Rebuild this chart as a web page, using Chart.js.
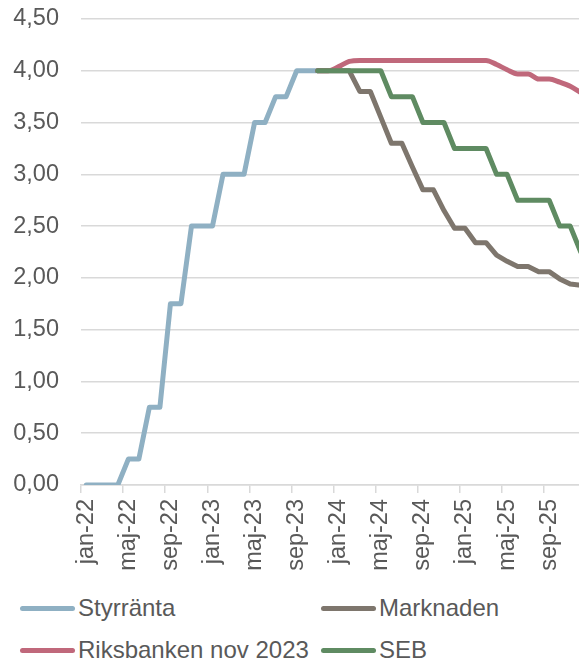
<!DOCTYPE html>
<html>
<head>
<meta charset="utf-8">
<script src="https://cdn.jsdelivr.net/npm/chart.js@4"></script>
<style>
  html, body { margin: 0; padding: 0; background: #fff; overflow: hidden; width: 579px; height: 660px; }
  #wrap { position: absolute; left: 0; top: 0; width: 586px; height: 590px; }
  .legend { position: absolute; left: 0; top: 0; font-family: "Liberation Sans", Arial, sans-serif; font-size: 24px; color: #595959; }
  .item { position: absolute; white-space: nowrap; display: flex; align-items: center; height: 28px; }
  .item span.sw { display: inline-block; width: 55px; height: 5px; border-radius: 3px; margin-right: 3px; }
</style>
</head>
<body>
<div id="wrap"><canvas id="rateChart" width="586" height="590"></canvas></div>
<div class="legend" id="legend"></div>
<script>
// månader jan-22 .. dec-25
const monthNames = ['jan', 'feb', 'mar', 'apr', 'maj', 'jun', 'jul', 'aug', 'sep', 'okt', 'nov', 'dec'];
const years = ['22', '23', '24', '25'];
const months = [];
years.forEach(y => monthNames.forEach(m => months.push(m + '-' + y)));

// Styrränta jan-22 .. nov-23
const styrranta = [0, 0, 0, 0, 0.25, 0.25, 0.75, 0.75, 1.75, 1.75, 2.5, 2.5,
                   2.5, 3.0, 3.0, 3.0, 3.5, 3.5, 3.75, 3.75, 4.0, 4.0, 4.0];
// prognoser från nov-23
const marknaden = [4.0, 4.0, 4.0, 4.0, 3.8, 3.8, 3.55, 3.3, 3.3, 3.07, 2.85, 2.85, 2.65, 2.48,
                   2.48, 2.34, 2.34, 2.22, 2.16, 2.11, 2.11, 2.06, 2.06, 1.99, 1.94, 1.93];
const riksbanken = [4.0, 4.0, 4.04, 4.09, 4.1, 4.1, 4.1, 4.1, 4.1, 4.1, 4.1, 4.1, 4.1, 4.1,
                    4.1, 4.1, 4.1, 4.06, 4.01, 3.97, 3.97, 3.92, 3.92, 3.89, 3.85, 3.79];
const seb = [4.0, 4.0, 4.0, 4.0, 4.0, 4.0, 4.0, 3.75, 3.75, 3.75, 3.5, 3.5, 3.5, 3.25,
             3.25, 3.25, 3.25, 3.0, 3.0, 2.75, 2.75, 2.75, 2.75, 2.5, 2.5, 2.25];
const yTicks = [0, 0.5, 1, 1.5, 2, 2.5, 3, 3.5, 4, 4.5];

const forecastStart = 22; // nov-23

function pad(values, start) {
    const out = new Array(months.length).fill(null);
    values.forEach((v, i) => { out[start + i] = v; });
    return out;
}

const series = [
    { label: 'Styrränta', data: pad(styrranta, 0), color: '#8fb0c3', order: 3 },
    { label: 'Marknaden', data: pad(marknaden, forecastStart), color: '#7e766d', order: 2 },
    { label: 'Riksbanken nov 2023', data: pad(riksbanken, forecastStart), color: '#c0687b', order: 1, smooth: true },
    { label: 'SEB', data: pad(seb, forecastStart), color: '#5f8b62', order: 0 }
];

const ctx = document.getElementById('rateChart').getContext('2d');
const rateChart = new Chart(ctx, {
    type: 'line',
    data: {
        labels: months,
        datasets: series.map(s => ({
            label: s.label,
            data: s.data,
            borderColor: s.color,
            backgroundColor: s.color,
            borderWidth: 5,
            pointRadius: 0,
            pointHoverRadius: 0,
            borderCapStyle: 'round',
            borderJoinStyle: 'round',
            tension: s.smooth ? 0.4 : 0,
            cubicInterpolationMode: s.smooth ? 'monotone' : 'default',
            spanGaps: false,
            order: s.order
        }))
    },
    options: {
        responsive: false,
        animation: false,
        layout: { padding: { top: 19, left: 0, right: 0, bottom: 0 } },
        plugins: {
            legend: { display: false },
            tooltip: { enabled: false }
        },
        scales: {
            x: {
                offset: true,
                grid: {
                    offset: true,
                    drawOnChartArea: false,
                    drawTicks: true,
                    tickLength: 8,
                    color: function (c) { return c.index % 4 === 0 ? '#d9d9d9' : 'rgba(0,0,0,0)'; },
                    lineWidth: 1.5
                },
                border: { display: true, color: '#d9d9d9', width: 1.5 },
                ticks: {
                    autoSkip: false,
                    minRotation: 90,
                    maxRotation: 90,
                    padding: 6,
                    color: '#595959',
                    font: { family: '"Liberation Sans", Arial, sans-serif', size: 23.5 },
                    callback: function (val, i) {
                        return i % 4 === 0 ? months[i] : '';
                    }
                },
                afterFit: function (scale) {
                    scale.height = 105;
                    scale.paddingLeft = 0;
                    scale.paddingRight = 0;
                }
            },
            y: {
                min: 0,
                max: 4.5,
                afterBuildTicks: function (scale) {
                    scale.ticks = yTicks.map(v => ({ value: v }));
                },
                grid: { color: '#d9d9d9', lineWidth: 1.5, drawTicks: false },
                border: { display: false },
                ticks: {
                    padding: 22,
                    color: '#595959',
                    font: { family: '"Liberation Sans", Arial, sans-serif', size: 23.5 },
                    callback: function (v) { return v.toFixed(2).replace('.', ','); }
                },
                afterFit: function (scale) {
                    scale.width = 81;
                    scale.paddingTop = 0;
                    scale.paddingBottom = 0;
                }
            }
        }
    }
});

// legend in two columns, same order as the source
const legendPos = [[20, 608], [321, 608], [20, 650], [321, 650]];
const legendEl = document.getElementById('legend');
series.forEach((s, i) => {
    const item = document.createElement('div');
    item.className = 'item';
    item.style.left = legendPos[i][0] + 'px';
    item.style.top = (legendPos[i][1] - 14) + 'px';
    item.innerHTML = '<span class="sw" style="background:' + s.color + '"></span>' + s.label;
    legendEl.appendChild(item);
});
</script>
</body>
</html>
